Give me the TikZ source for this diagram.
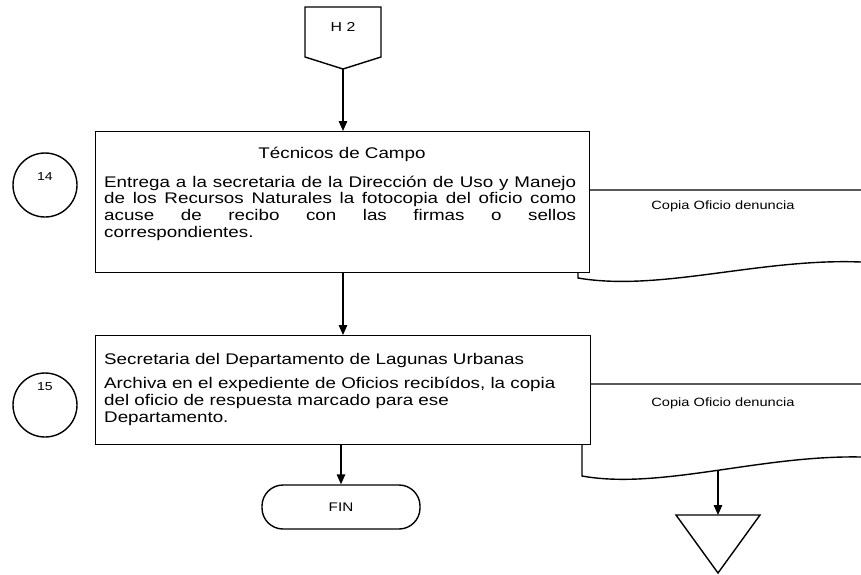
\documentclass[tikz,border=0pt]{standalone}
\usepackage{fontspec}
\setmainfont{Liberation Sans}[FakeStretch=1.22]
\usetikzlibrary{arrows.meta}
\tikzset{
  ln/.style={line width=1.4pt, draw=black},
  arr/.style={ln, -{Triangle[length=10pt,width=8.5pt]}},
  boxst/.style={ln, fill=white, anchor=north west, inner sep=0pt},
  txt/.style={inner sep=0pt, anchor=base west},
  ctxt/.style={inner sep=0pt, anchor=base},
  circst/.style={ln, circle, minimum size=64pt, inner sep=0pt},
  bodyfont/.style={font=\fontsize{15.4}{16.7}\selectfont},
  smallfont/.style={font=\fontsize{12}{13}\selectfont}
}
\begin{document}
\begin{tikzpicture}[x=1pt,y=-1pt]
\useasboundingbox (0,0) rectangle (861,574);
% documents (behind boxes)
\draw[ln] (861,190) -- (578,190) -- (578,278) .. controls (660,292) and (760,258) .. (861,262);
\draw[ln] (861,384) -- (582,384) -- (582,476) .. controls (660,490) and (760,455) .. (861,457);
\coordinate (d2b) at (718,470.5);
\node[ctxt, smallfont] (d1t) at (723,209) {Copia Oficio denuncia};
\node[ctxt, smallfont] (d2t) at (723,406) {Copia Oficio denuncia};
% off-page connector H 2
\coordinate (h2a) at (305,7);
\coordinate (h2b) at (381,7);
\coordinate (h2c) at (381,57);
\coordinate (h2tip) at (343,69);
\coordinate (h2d) at (305,57);
\draw[ln, line join=miter] (h2a) -- (h2b) -- (h2c) -- (h2tip) -- (h2d) -- cycle;
\node[anchor=center, inner sep=0pt, font=\fontsize{13}{14}\selectfont] (h2) at (343,27) {H 2};
% boxes
\node[boxst, minimum width=494pt, minimum height=141pt] (b1) at (95,131) {};
\node[boxst, minimum width=495pt, minimum height=109pt] (b2) at (95,335) {};
% box 1 text
\node[ctxt, bodyfont] (t1) at (342,158) {Técnicos de Campo};
\node[txt, bodyfont] (p1) at (104,187) {\parbox[t]{472pt}{\fontsize{15.4}{16.7}\selectfont\hyphenpenalty=10000
Entrega a la secretaria de la Dirección de Uso y Manejo\linebreak
de los Recursos Naturales la fotocopia del oficio como\linebreak
acuse de recibo con las firmas o sellos\linebreak
correspondientes.\par}};
% box 2 text
\node[txt, bodyfont] (t2) at (104,364) {Secretaria del Departamento de Lagunas Urbanas};
\node[txt, bodyfont] (p2) at (104,388) {\parbox[t]{472pt}{\fontsize{15.4}{17}\selectfont\raggedright
Archiva en el expediente de Oficios recibídos, la copia\\
del oficio de respuesta marcado para ese\\
Departamento.\par}};
% circles
\node[circst] (c14) at (45,185) {};
\node[anchor=center, inner sep=0pt, font=\fontsize{11.5}{12}\selectfont] (n14) at ([yshift=8pt]c14.center) {14};
\node[circst] (c15) at (45,405) {};
\node[anchor=center, inner sep=0pt, font=\fontsize{11.5}{12}\selectfont] (n15) at ([yshift=18pt]c15.center) {15};
% terminal
\node[ln, rounded corners=21pt, minimum width=158pt, minimum height=44pt, inner sep=0pt, font=\fontsize{12.5}{14}\selectfont] (fin) at (341,507) {FIN};
% triangle (off-page store)
\coordinate (tra) at (676,515);
\coordinate (trb) at (760,515);
\coordinate (trc) at (718,573);
\coordinate (trtop) at (718,515);
\draw[ln, line join=miter] (tra) -- (trb) -- (trc) -- cycle;
% connectors
\draw[arr] (h2tip) -- (h2tip |- b1.north);
\draw[arr] (h2tip |- b1.south) -- (h2tip |- b2.north);
\draw[arr] (fin.north |- b2.south) -- (fin.north);
\draw[arr] (d2b) -- (trtop);
\end{tikzpicture}
\end{document}
